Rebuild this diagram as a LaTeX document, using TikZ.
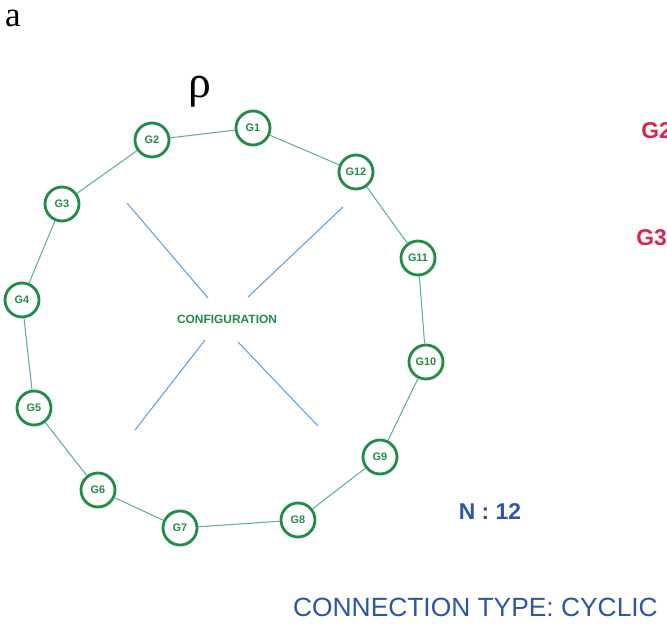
\documentclass[tikz,border=0pt]{standalone}
\usepackage{fontspec}
\setmainfont{Liberation Serif}
\setsansfont{Liberation Sans}
\usepackage{xcolor}
\usetikzlibrary{positioning}

\definecolor{ringgreen}{RGB}{34,140,70}
\definecolor{linkteal}{RGB}{95,170,170}
\definecolor{crossblue}{RGB}{95,160,215}
\definecolor{labelblue}{RGB}{45,85,165}
\definecolor{genred}{RGB}{220,35,75}

\begin{document}
\begin{tikzpicture}[
    x=0.02cm, y=-0.02cm,
    gen/.style={circle, draw=ringgreen, line width=1.6pt, fill=white, minimum size=0.68cm, inner sep=0pt, text=ringgreen, font=\sffamily\bfseries\fontsize{6.2}{7}\selectfont},
    link/.style={draw=linkteal, line width=0.6pt},
    cross/.style={draw=crossblue, line width=0.6pt},
    info/.style={text=labelblue, font=\sffamily}
]
    \useasboundingbox (0,0) rectangle (667,626);
    \clip (0,0) rectangle (667,626);

    % Panel letter and ring label
    \node [font=\fontsize{20}{20}\selectfont] (panel) at (13,18) {a};
    \node [font=\fontsize{26}{26}\selectfont] (rho) at (200,92) {ρ};

    % Cross in the middle of the ring
    \draw[cross] (127,203) -- (208,298);
    \draw[cross] (343,207) -- (248,297);
    \draw[cross] (205,340) -- (135,430);
    \draw[cross] (238,342) -- (318,426);
    \node [text=ringgreen, font=\sffamily\bfseries\fontsize{6.8}{7}\selectfont] (config) at (227,319) {CONFIGURATION};

    % Generators on the ring
    \node [gen] (g1) at (253,128) {G1};
    \node [gen] (g2) at (152,140) {G2};
    \node [gen] (g3) at (62,204) {G3};
    \node [gen] (g4) at (22,300) {G4};
    \node [gen] (g5) at (34,408) {G5};
    \node [gen] (g6) at (98,490) {G6};
    \node [gen] (g7) at (180,528) {G7};
    \node [gen] (g8) at (298,520) {G8};
    \node [gen] (g9) at (380,457) {G9};
    \node [gen] (g10) at (426,362) {G10};
    \node [gen] (g11) at (418,258) {G11};
    \node [gen] (g12) at (356,172) {G12};

    % Cyclic links
    \draw[link] (g1) -- (g2);
    \draw[link] (g2) -- (g3);
    \draw[link] (g3) -- (g4);
    \draw[link] (g4) -- (g5);
    \draw[link] (g5) -- (g6);
    \draw[link] (g6) -- (g7);
    \draw[link] (g7) -- (g8);
    \draw[link] (g8) -- (g9);
    \draw[link] (g9) -- (g10);
    \draw[link] (g10) -- (g11);
    \draw[link] (g11) -- (g12);
    \draw[link] (g12) -- (g1);

    % Labels on the right
    \node [anchor=west, inner sep=0pt, text=genred, font=\sffamily\bfseries\fontsize{13}{13}\selectfont] (redg2) at (641,131) {G2};
    \node [anchor=west, inner sep=0pt, text=genred, font=\sffamily\bfseries\fontsize{13}{13}\selectfont] (redg3) at (636,238) {G3};
    \node [info, font=\sffamily\bfseries\fontsize{13}{13}\selectfont] (count) at (490,512) {N : 12};
    \node [info, anchor=east, font=\sffamily\fontsize{15}{15}\selectfont] (conntype) at (664,607) {CONNECTION TYPE: CYCLIC};
\end{tikzpicture}
\end{document}
